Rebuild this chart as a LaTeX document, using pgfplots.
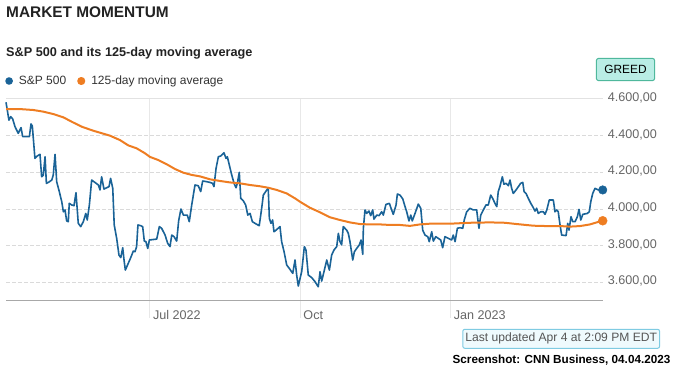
\documentclass[border=0pt]{standalone}
\usepackage{fontspec}
\setmainfont{Liberation Sans}
\usepackage{pgfplots}
\pgfplotsset{compat=1.18}
\usepackage{pgfplotstable}

\definecolor{spblue}{HTML}{1A6397}
\definecolor{maorange}{HTML}{EE7D22}
\definecolor{titlecol}{HTML}{222222}
\definecolor{legendgray}{HTML}{333333}
\definecolor{tickgray}{HTML}{666666}
\definecolor{hgrid}{HTML}{DADADA}
\definecolor{vgrid}{HTML}{E8E8E8}
\definecolor{topgrid}{HTML}{E2E2E2}
\definecolor{axisgray}{HTML}{A8A8A8}
\definecolor{greedfill}{HTML}{B9EDE5}
\definecolor{greedborder}{HTML}{4FB89C}
\definecolor{updfill}{HTML}{EFFAFD}
\definecolor{updborder}{HTML}{7FCBE2}
\definecolor{updtext}{HTML}{555555}

% S&P 500 close, x = days since 4 Apr 2022
\pgfplotstableread{
day close
0 4582
1.8 4485
2.9 4504
4.1 4491
5.5 4449
7.5 4413
9.2 4444
10.2 4395
14.3 4395
15.3 4464
16.1 4453
17.7 4276
19.1 4289
20.8 4298
21.8 4176
22.8 4185
23.9 4285
24.7 4140
25.9 4145
28.0 4158
28.9 4185
30.0 4298
31.0 4149
32.6 4095
34.1 4040
35.1 3985
36.1 3995
37.1 3935
38.1 3931
38.7 4031
40.2 4022
41.6 4018
42.8 4089
43.6 3995
44.2 3922
45.7 3904
47.3 3931
48.8 3976
49.7 3940
51.0 4022
52.4 4158
54.4 4145
56.5 4131
57.5 4104
58.5 4176
59.9 4109
61.6 4116
63.0 4122
64.0 4167
65.3 4113
66.2 3913
67.7 3840
69.1 3749
70.2 3735
71.4 3789
72.2 3722
73.0 3667
74.8 3704
76.3 3735
77.9 3771
78.9 3767
79.9 3795
80.7 3913
82.4 3909
83.6 3904
84.6 3825
85.6 3822
86.7 3785
87.7 3831
92.2 3836
93.8 3904
95.2 3895
97.3 3858
98.9 3813
100.3 3795
101.4 3858
102.8 3849
104.4 3825
105.6 3935
107.0 4000
108.5 3967
110.9 3967
112.1 3931
113.6 4022
115.6 4131
117.6 4127
119.1 4095
120.3 4153
122.8 4149
124.8 4145
126.4 4140
127.2 4122
128.5 4222
129.9 4285
131.3 4289
133.3 4307
134.6 4276
135.4 4285
136.6 4240
138.1 4185
139.5 4140
140.7 4116
141.5 4140
142.7 4200
143.6 4058
145.2 4044
146.6 4022
147.9 3967
149.3 3976
150.7 3931
152.3 3922
154.9 3909
156.4 4004
157.4 4076
159.5 4104
160.4 4113
161.1 3949
162.1 3922
163.1 3940
163.9 3876
165.2 3885
167.6 3904
168.6 3822
170.1 3767
171.7 3695
173.3 3676
175.4 3649
176.8 3722
177.8 3640
178.8 3580
180.9 3660
182.5 3795
183.5 3776
184.9 3640
187.0 3626
189.0 3604
191.0 3576
192.1 3658
193.1 3607
194.5 3658
196.2 3722
197.8 3667
199.2 3749
200.6 3776
202.3 3795
203.3 3867
204.3 3822
205.3 3804
206.3 3904
208.4 3885
209.4 3867
210.4 3822
212.1 3722
213.1 3767
214.5 3785
216.1 3804
217.2 3831
218.2 3753
218.6 3895
219.6 3995
220.6 3976
222.0 3989
223.1 3964
224.3 3995
225.1 3945
226.8 3967
228.2 3964
229.8 3985
230.8 3967
232.4 4025
234.5 4031
235.9 3995
236.9 3971
238.6 4022
239.4 4082
241.0 4076
242.7 4055
244.1 4013
245.1 3985
246.5 3935
247.6 3967
248.5 3935
250.2 3976
252.2 4027
253.7 4004
254.9 3885
256.3 3858
258.0 3849
258.9 3822
260.4 3876
261.4 3825
262.9 3849
264.4 3840
265.9 3831
267.1 3789
268.5 3849
270.6 3840
272.6 3831
273.6 3858
274.7 3822
276.1 3895
277.7 3898
279.4 3895
280.3 3940
281.8 3985
283.8 4004
285.8 3995
287.9 3995
289.3 3895
290.4 3967
292.0 3995
293.6 4022
295.0 4022
296.5 4076
297.7 4058
299.1 4031
300.2 4013
301.1 4095
302.2 4125
303.6 4176
304.6 4135
305.9 4140
307.3 4127
308.3 4158
309.3 4113
310.3 4085
312.0 4104
313.4 4122
314.8 4140
316.1 4145
316.9 4095
318.1 4085
319.5 4058
321.0 4031
322.2 4013
323.6 3989
324.6 4004
325.6 3976
327.1 3985
328.7 3985
329.7 3971
330.8 3995
332.3 4049
334.8 4049
335.8 3985
336.9 3995
337.8 3985
338.9 3913
339.9 3858
342.6 3855
343.6 3922
344.4 3885
345.6 3958
346.7 3931
348.1 3931
349.5 3958
350.5 3998
351.6 3940
352.8 3971
355.6 3976
356.8 3985
357.7 4040
358.9 4085
360.3 4113
362.3 4104
365.0 4104
}\spx

% 125-day moving average
\pgfplotstableread{
day ma
0 4545
8.6 4545
16.7 4540
22.8 4531
28.9 4518
35.1 4500
40.2 4476
46.3 4449
53.4 4427
60.6 4408
63.6 4400
69.7 4376
74.8 4347
79.9 4331
85.0 4304
88.1 4284
93.2 4267
98.3 4244
103.4 4218
108.5 4198
113.6 4186
118.7 4178
124.8 4162
130.9 4153
137.0 4145
143.1 4140
149.3 4131
155.4 4124
160.4 4116
165.6 4104
171.7 4085
176.8 4058
179.8 4040
185.9 4007
192.1 3982
198.2 3955
204.3 3940
210.4 3927
216.5 3918
222.7 3916
228.8 3916
234.9 3913
241.0 3913
247.1 3908
253.2 3916
259.4 3920
271.6 3920
283.8 3925
296.1 3927
305.2 3925
312.4 3918
322.6 3909
330.8 3907
338.9 3907
345.0 3904
351.1 3907
357.2 3916
361.3 3927
365.0 3936
}\ma

\begin{document}
\begin{tikzpicture}
\path[use as bounding box] (0,0) rectangle (686bp,370bp);

\node[anchor=base west, inner sep=0pt, text=titlecol,
      font=\fontsize{15.4bp}{18bp}\selectfont\bfseries] at (6bp,352.7bp) {MARKET MOMENTUM};
\node[anchor=base west, inner sep=0pt, text=titlecol,
      font=\fontsize{12.7bp}{15bp}\selectfont\bfseries] at (6bp,313.3bp) {S\&P 500 and its 125-day moving average};

\begin{axis}[
  at={(6bp,69.3bp)}, anchor=south west,
  scale only axis, width=596.7bp, height=201.7bp,
  xmin=0, xmax=365, ymin=3500, ymax=4600,
  clip=false,
  axis line style={draw=none},
  major tick length=0pt,
  xtick={88,180,272},
  xticklabels={Jul 2022, Oct, Jan 2023},
  ytick={3600,3800,4000,4200,4400,4600},
  yticklabels={{3.600,00},{3.800,00},{4.000,00},{4.200,00},{4.400,00},{4.600,00}},
  yticklabel pos=right,
  ymajorgrids,
  y grid style={hgrid, line width=1bp, dash pattern=on 3.5bp off 2.5bp},
  yticklabel style={anchor=west, inner sep=0pt, xshift=5bp, yshift=1bp, text=tickgray,
                    font=\fontsize{12.6bp}{15bp}\selectfont},
  xticklabel style={anchor=base west, inner sep=0pt, xshift=3bp, yshift=-18.6bp, text=tickgray,
                    font=\fontsize{12.6bp}{15bp}\selectfont},
  legend columns=2,
  legend style={at={(0,1)}, anchor=west, xshift=-0.7bp, yshift=18bp,
                draw=none, fill=none, inner sep=0pt, outer sep=0pt,
                nodes={inner sep=0pt},
                font=\fontsize{12bp}{14bp}\selectfont,
                /tikz/every odd column/.append style={column sep=6bp},
                /tikz/every even column/.append style={column sep=11bp}},
  legend image code/.code={\fill[#1] (0bp,0bp) circle (3bp);},
]
\draw[topgrid, line width=1bp] (axis cs:0,4600) -- (axis cs:365,4600);
\draw[vgrid, line width=1bp] (axis cs:88,4600) -- (axis cs:88,3404.6);
\draw[vgrid, line width=1bp] (axis cs:180,4600) -- (axis cs:180,3404.6);
\draw[vgrid, line width=1bp] (axis cs:272,4600) -- (axis cs:272,3404.6);
\draw[axisgray, line width=1.3bp] (axis cs:0,3500) -- (axis cs:365,3500);

\addplot[spblue, line width=1.6bp, line join=round, mark=none] table[x=day, y=close] {\spx};
\addlegendentry{\textcolor{legendgray}{S\&P 500}}
\addplot[maorange, line width=2bp, line join=round, mark=none] table[x=day, y=ma] {\ma};
\addlegendentry{\textcolor{legendgray}{125-day moving average}}

\addplot[forget plot, only marks, mark=*, mark size=4.3bp, spblue] coordinates {(365,4104)};
\addplot[forget plot, only marks, mark=*, mark size=4.5bp, maorange] coordinates {(365,3936)};
\end{axis}

\node[draw=greedborder, fill=greedfill, rounded corners=2.5bp, line width=1bp,
      minimum width=58.4bp, minimum height=22.4bp, inner sep=0pt,
      font=\fontsize{11.9bp}{14bp}\selectfont] at (625.5bp,300.5bp) {GREED};

\node[draw=updborder, fill=updfill, rounded corners=2bp, line width=1bp,
      minimum width=196.8bp, minimum height=19bp, inner sep=0pt, text=updtext,
      font=\fontsize{12.1bp}{14bp}\selectfont] at (561.2bp,31.2bp) {Last updated Apr 4 at 2:09 PM EDT};

\node[anchor=base east, inner sep=0pt,
      font=\fontsize{11.7bp}{14bp}\selectfont\bfseries] at (670.5bp,6.5bp) {Screenshot: CNN Business, 04.04.2023};
\end{tikzpicture}
\end{document}
